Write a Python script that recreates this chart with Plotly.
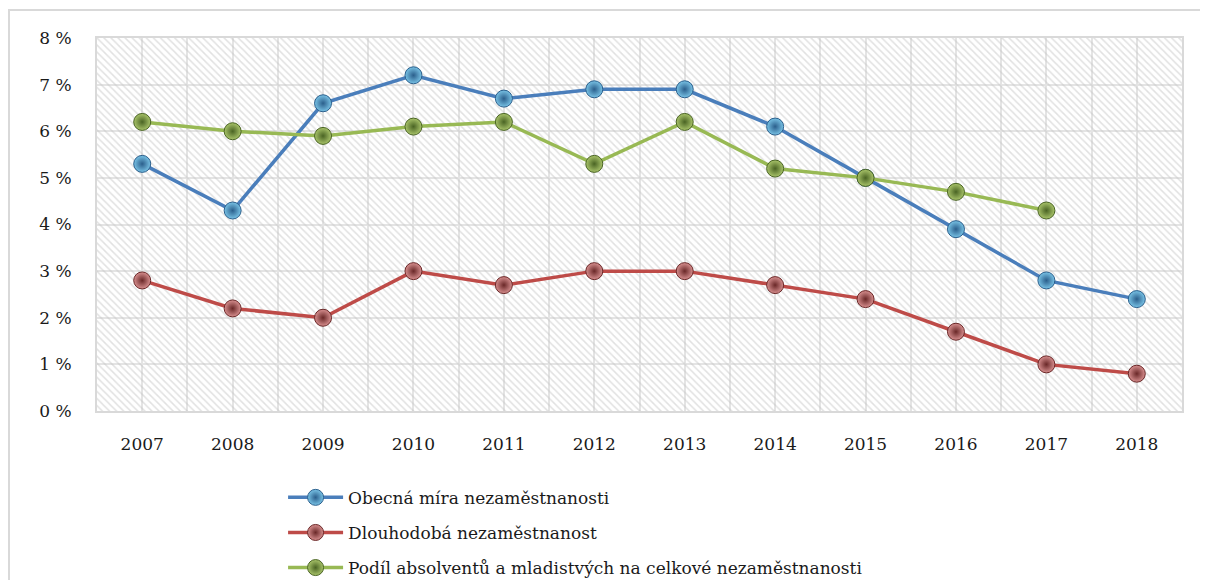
import plotly.graph_objects as go

years = [2007, 2008, 2009, 2010, 2011, 2012, 2013, 2014, 2015, 2016, 2017, 2018]
obecna = [5.3, 4.3, 6.6, 7.2, 6.7, 6.9, 6.9, 6.1, 5.0, 3.9, 2.8, 2.4]
dlouhodoba = [2.8, 2.2, 2.0, 3.0, 2.7, 3.0, 3.0, 2.7, 2.4, 1.7, 1.0, 0.8]
absolventi = [6.2, 6.0, 5.9, 6.1, 6.2, 5.3, 6.2, 5.2, 5.0, 4.7, 4.3, None]
names = ["Obecná míra nezaměstnanosti", "Dlouhodobá nezaměstnanost",
         "Podíl absolventů a mladistvých na celkové nezaměstnanosti"]
y_ticks = [0, 1, 2, 3, 4, 5, 6, 7, 8]

FONT = "DejaVu Serif"
line_colors = ["#4a7ebb", "#be4b48", "#98b954"]
marker_colors = ["#79c3e6", "#d89090", "#a9c46a"]
marker_borders = ["#2b5f8c", "#6a2828", "#4a6424"]

# page body has an 8px margin; figure is placed at (8, 8)
W, H = 1200, 572
L, T, R, B = 89, 30, 26, 169
PW, PH = W - L - R, H - T - B

fig = go.Figure()

# hatched plot background
x0, x1 = years[0] - 0.5, years[-1] + 0.5
fig.add_trace(go.Scatter(
    x=[x0, x1, x1, x0, x0], y=[0, 0, 8, 8, 0], mode="lines", fill="toself",
    line=dict(width=0), fillcolor="rgba(0,0,0,0)",
    fillpattern=dict(shape="\\", fgcolor="#c4c4c4", bgcolor="rgba(0,0,0,0)",
                     size=5, solidity=0.3),
    hoverinfo="skip", showlegend=False))

for i, (vals, name, lc, mc, mb) in enumerate(zip([obecna, dlouhodoba, absolventi], names,
                                              line_colors, marker_colors, marker_borders)):
    fig.add_trace(go.Scatter(
        x=years, y=vals, name=name, mode="lines+markers", legendgroup=f"g{i}",
        line=dict(color=lc, width=3.5),
        marker=dict(size=17, color=mc,
                    gradient=dict(type="radial", color=mb),
                    line=dict(color=mb, width=1)),
        connectgaps=False))

fig.update_layout(
    width=W, height=H,
    margin=dict(l=L, r=R, t=T, b=B, autoexpand=False),
    paper_bgcolor="white", plot_bgcolor="white",
    font=dict(family=FONT, size=17, color="#1a1a1a"),
    showlegend=True,
    legend=dict(x=0.1715, y=-0.1845, xanchor="left", yanchor="top",
                orientation="v", font=dict(family=FONT, size=17),
                itemwidth=55, tracegroupgap=10, bgcolor="rgba(0,0,0,0)"),
    shapes=[dict(type="rect", xref="paper", yref="paper",
                 x0=(9 - 8 - L) / PW, x1=1.06, y0=-0.6, y1=(T + PH - 2) / PH,
                 line=dict(color="#d9d9d9", width=2), layer="below")],
)

fig.update_xaxes(
    range=[x0, x1], tickmode="array", tickvals=years, ticktext=[str(y) for y in years],
    showgrid=True, gridcolor="#e4e4e4", gridwidth=2,
    minor=dict(tickmode="array", tickvals=[y + 0.5 for y in years[:-1]],
               showgrid=True, gridcolor="#e4e4e4", gridwidth=2),
    showline=True, linecolor="#d9d9d9", linewidth=2, mirror=True,
    ticks="", ticklabelstandoff=17, zeroline=False)

fig.update_yaxes(
    range=[0, 8], tickmode="array", tickvals=y_ticks,
    ticktext=[f"{v} %" for v in y_ticks],
    showgrid=True, gridcolor="#e4e4e4", gridwidth=2,
    showline=True, linecolor="#d9d9d9", linewidth=2, mirror=True,
    ticks="", ticklabelstandoff=20, zeroline=False)

fig.write_html("out.html")
